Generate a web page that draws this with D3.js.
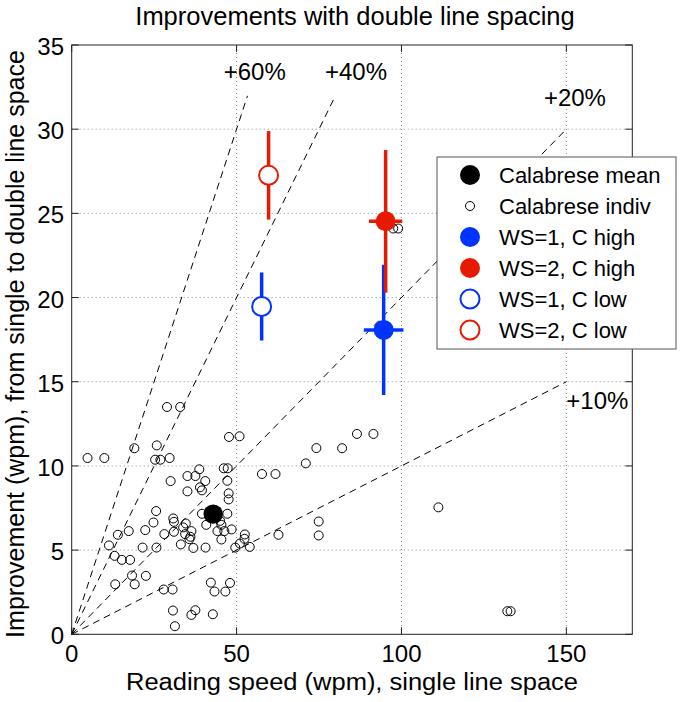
<!DOCTYPE html>
<html><head><meta charset="utf-8">
<script src="https://cdn.jsdelivr.net/npm/d3@7"></script>
<style>
body{margin:0;background:#fff;}
text{font-family:"Liberation Sans",Arial,Helvetica,sans-serif;fill:#000;}
</style></head>
<body><svg id="c" width="683" height="702"></svg>
<script>
// ---- data ----
const titleText = "Improvements with double line spacing";
const xLabel = "Reading speed (wpm), single line space";
const yLabel = "Improvement (wpm), from single to double line space";
const xTicks = [0, 50, 100, 150];
const yTicks = [0, 5, 10, 15, 20, 25, 30, 35];
const xDomain = [0, 170];
const yDomain = [0, 35];

// reference lines (percent improvement) and the x where each ends
const refPct = [60, 40, 20, 10];
const refEndX = [53.3, 80, 150, 150];
const refLabels = ["+60%", "+40%", "+20%", "+10%"];
const refLabelPos = [[55.5, 32.95], [86.2, 32.95], [152.6, 31.4], [150, 13.4]];
const refLabelAnchor = ["middle", "middle", "middle", "start"];

// Calabrese individual observers [speed, improvement]
const indivPoints = [
 [4.8,10.47],[9.9,10.47],[19.0,11.05],[28.9,13.5],[32.9,13.5],[25.8,11.22],[25.3,10.37],[26.9,10.37],
 [29.7,10.47],[30.0,9.10],[47.7,11.72],[50.9,11.76],[35.1,9.40],[37.5,9.40],[38.7,9.80],[40.5,9.10],
 [35.1,8.49],[38.9,8.73],[39.5,8.55],[46.1,9.86],[47.3,9.86],[47.2,9.12],[47.6,8.37],[47.6,8.01],
 [47.2,7.16],[39.5,7.16],[25.6,7.32],[24.8,6.64],[30.8,6.88],[31.0,6.68],[34.6,6.58],[33.8,6.35],
 [31.0,6.09],[28.1,5.95],[34.4,5.95],[36.3,6.13],[36.0,5.79],[35.7,5.65],[33.1,5.34],[36.9,5.13],
 [40.6,5.15],[40.8,6.50],[45.0,6.74],[45.4,6.50],[44.2,6.13],[46.3,6.13],[45.4,5.63],[48.5,6.23],
 [49.6,5.15],[51.0,5.39],[52.5,5.93],[52.4,5.67],[54.0,5.19],[22.3,6.19],[17.3,6.13],[14.0,5.91],
 [11.3,5.28],[13.0,4.66],[15.2,4.42],[17.7,4.42],[21.5,5.15],[25.7,5.15],[13.2,2.97],[18.3,3.49],
 [19.1,2.97],[22.5,3.47],[27.9,2.66],[30.6,2.66],[30.7,1.41],[31.3,0.48],[36.3,1.15],[37.5,1.43],
 [42.8,1.19],[42.2,3.07],[43.3,2.54],[46.6,2.54],[48.0,3.05],[62.7,5.91],[57.7,9.52],[61.8,9.52],
 [71.0,10.15],[74.2,11.06],[74.9,6.70],[74.9,5.87],[82.0,11.05],[86.5,11.90],[91.5,11.90],[111.2,7.54],
 [132.1,1.37],[133.1,1.37],[97.5,24.1],[99.0,24.1]
];
const calabreseMean = [42.9, 7.14];

// conditions
const condLabels = ["WS=1, C high", "WS=2, C high", "WS=1, C low", "WS=2, C low"];
const condX = [94.6, 95.2, 57.6, 59.7];
const condY = [18.08, 24.53, 19.47, 27.26];
const condXErr = [6.0, 5.05, 0, 0];
const condYErr = [3.87, 4.24, 2.02, 2.63];
const condColor = ["#0033ff", "#e61a00", "#0033ff", "#e61a00"];
const condFilled = [true, true, false, false];

const legendLabels = ["Calabrese mean", "Calabrese indiv", "WS=1, C high", "WS=2, C high", "WS=1, C low", "WS=2, C low"];

// ---- layout ----
const L = 71.7, R = 632.3, T = 45, B = 634.3;
const svg = d3.select("#c");
const x = d3.scaleLinear().domain(xDomain).range([L, R]);
const y = d3.scaleLinear().domain(yDomain).range([B, T]);

// grid
const g = svg.append("g");
g.selectAll("line.gx").data(xTicks.filter(v => v > xDomain[0] && v < xDomain[1])).join("line")
  .attr("x1", d => x(d)).attr("x2", d => x(d)).attr("y1", T).attr("y2", B)
  .attr("stroke", "#888").attr("stroke-width", 1).attr("stroke-dasharray", "1,3");
g.selectAll("line.gy").data(yTicks.filter(v => v > yDomain[0] && v < yDomain[1])).join("line")
  .attr("y1", d => y(d)).attr("y2", d => y(d)).attr("x1", L).attr("x2", R)
  .attr("stroke", "#888").attr("stroke-width", 1).attr("stroke-dasharray", "1,3");

// reference lines
refPct.forEach((p, i) => {
  svg.append("line")
    .attr("x1", x(0)).attr("y1", y(0))
    .attr("x2", x(refEndX[i])).attr("y2", y(refEndX[i] * p / 100))
    .attr("stroke", "#000").attr("stroke-width", 1).attr("stroke-dasharray", "7,5");
  svg.append("text").attr("x", x(refLabelPos[i][0])).attr("y", y(refLabelPos[i][1]))
    .attr("text-anchor", refLabelAnchor[i]).attr("font-size", 24).text(refLabels[i]);
});

// individual points
svg.append("g").selectAll("circle").data(indivPoints).join("circle")
  .attr("cx", d => x(d[0])).attr("cy", d => y(d[1])).attr("r", 4.5)
  .attr("fill", "none").attr("stroke", "#000").attr("stroke-width", 1);

// mean
svg.append("circle").attr("cx", x(calabreseMean[0])).attr("cy", y(calabreseMean[1]))
  .attr("r", 9.7).attr("fill", "#000");

// conditions with error bars
condX.forEach((cx, i) => {
  const col = condColor[i];
  const gg = svg.append("g");
  gg.append("line").attr("x1", x(cx)).attr("x2", x(cx))
    .attr("y1", y(condY[i] - condYErr[i])).attr("y2", y(condY[i] + condYErr[i]))
    .attr("stroke", col).attr("stroke-width", 3.5);
  if (condXErr[i] > 0) {
    gg.append("line").attr("y1", y(condY[i])).attr("y2", y(condY[i]))
      .attr("x1", x(cx - condXErr[i])).attr("x2", x(cx + condXErr[i]))
      .attr("stroke", col).attr("stroke-width", 3.5);
  }
  gg.append("circle").attr("cx", x(cx)).attr("cy", y(condY[i]))
    .attr("r", condFilled[i] ? 10 : 9.5)
    .attr("fill", condFilled[i] ? col : "#fff")
    .attr("stroke", col).attr("stroke-width", condFilled[i] ? 0 : 2);
});

// box + ticks
svg.append("rect").attr("x", L).attr("y", T).attr("width", R - L).attr("height", B - T)
  .attr("fill", "none").attr("stroke", "#222").attr("stroke-width", 1);
const tk = 7;
xTicks.forEach(v => {
  svg.append("line").attr("x1", x(v)).attr("x2", x(v)).attr("y1", B).attr("y2", B - tk).attr("stroke", "#222");
  svg.append("line").attr("x1", x(v)).attr("x2", x(v)).attr("y1", T).attr("y2", T + tk).attr("stroke", "#222");
  svg.append("text").attr("x", x(v)).attr("y", 662).attr("text-anchor", "middle").attr("font-size", 24).text(v);
});
yTicks.forEach(v => {
  svg.append("line").attr("y1", y(v)).attr("y2", y(v)).attr("x1", L).attr("x2", L + tk).attr("stroke", "#222");
  svg.append("line").attr("y1", y(v)).attr("y2", y(v)).attr("x1", R).attr("x2", R - tk).attr("stroke", "#222");
  svg.append("text").attr("x", 64).attr("y", y(v) + 10).attr("text-anchor", "end").attr("font-size", 24).text(v);
});

// titles
svg.append("text").attr("x", 355).attr("y", 25).attr("text-anchor", "middle").attr("font-size", 25.5).text(titleText);
svg.append("text").attr("x", 352).attr("y", 689.5).attr("text-anchor", "middle").attr("font-size", 23.5)
  .attr("textLength", 452).attr("lengthAdjust", "spacingAndGlyphs").text(xLabel);
svg.append("text").attr("transform", "translate(24,344) rotate(-90)").attr("text-anchor", "middle")
  .attr("font-size", 25).text(yLabel);

// legend
const lg = svg.append("g");
lg.append("rect").attr("x", 437).attr("y", 157).attr("width", 239).attr("height", 192)
  .attr("fill", "#fff").attr("stroke", "#555").attr("stroke-width", 1);
const rowY0 = 175, rowDy = 31;
const legMarkers = [
  {r: 10, fill: "#000", stroke: "none", sw: 0},
  {r: 4.5, fill: "none", stroke: "#000", sw: 1},
  {r: 10, fill: condColor[0], stroke: "none", sw: 0},
  {r: 10, fill: condColor[1], stroke: "none", sw: 0},
  {r: 9.5, fill: "#fff", stroke: condColor[2], sw: 2},
  {r: 9.5, fill: "#fff", stroke: condColor[3], sw: 2}
];
legendLabels.forEach((t, i) => {
  const cy = rowY0 + i * rowDy;
  const m = legMarkers[i];
  lg.append("circle").attr("cx", 470).attr("cy", cy).attr("r", m.r)
    .attr("fill", m.fill).attr("stroke", m.stroke).attr("stroke-width", m.sw);
  lg.append("text").attr("x", 499).attr("y", cy + 8).attr("font-size", 22).text(t);
});
</script></body></html>
